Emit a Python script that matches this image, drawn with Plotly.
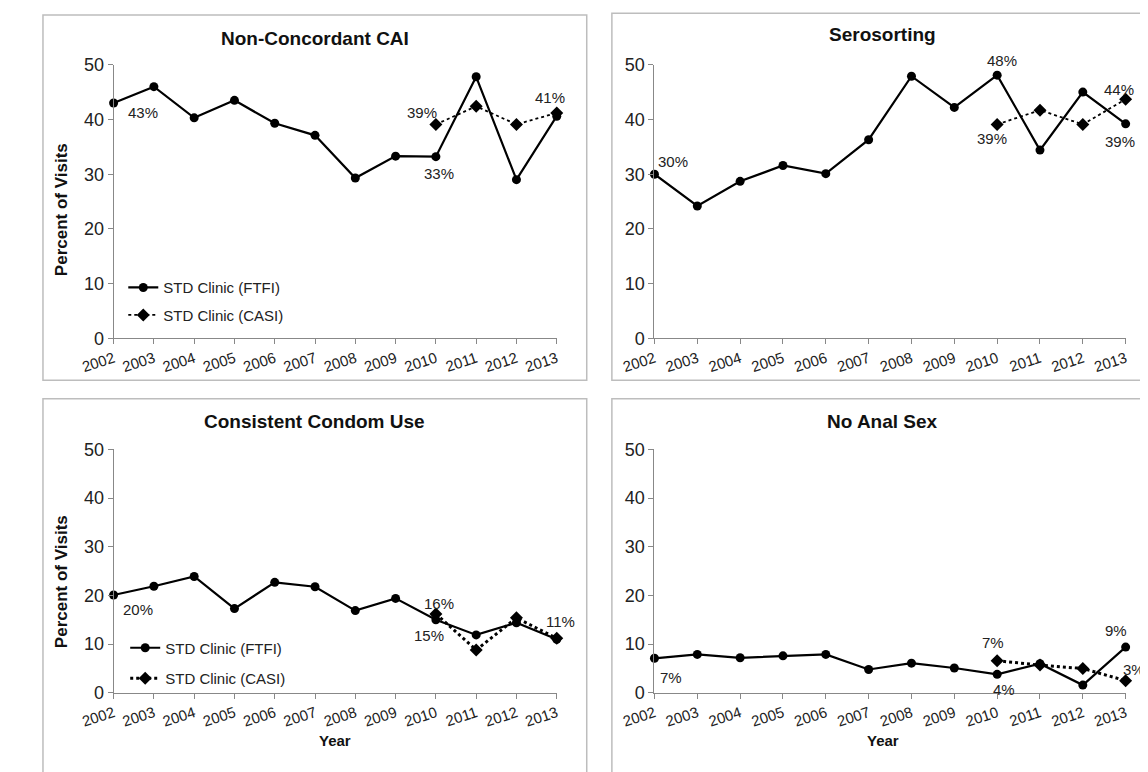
import plotly.graph_objects as go

# The page body adds an 8px offset, so the figure is drawn 8px smaller and
# all layout pixel positions below are given in window pixels and shifted.
OFF = 8
W, H = 1148 - OFF, 772 - OFF
FONT = "Liberation Sans, Arial, sans-serif"

years = list(range(2002, 2014))
casi_years = [2010, 2011, 2012, 2013]

titles = ["Non-Concordant CAI", "Serosorting", "Consistent Condom Use", "No Anal Sex"]

ftfi_ncai = [43.0, 46.0, 40.3, 43.5, 39.3, 37.1, 29.3, 33.3, 33.2, 47.8, 29.0, 40.6]
casi_ncai = [39.1, 42.4, 39.1, 41.2]

ftfi_sero = [30.0, 24.2, 28.7, 31.6, 30.1, 36.3, 47.9, 42.2, 48.1, 34.4, 45.0, 39.2]
casi_sero = [39.1, 41.7, 39.1, 43.7]

ftfi_ccu = [20.1, 21.9, 23.9, 17.3, 22.7, 21.8, 16.9, 19.4, 15.0, 11.9, 14.4, 11.0]
casi_ccu = [16.2, 8.8, 15.4, 11.2]

ftfi_nas = [7.1, 7.9, 7.2, 7.6, 7.9, 4.8, 6.1, 5.1, 3.8, 6.0, 1.6, 9.4]
casi_nas = [6.6, 5.7, 5.0, 2.5]

ftfi_name = "STD Clinic (FTFI)"
casi_name = "STD Clinic (CASI)"

ftfi_all = [ftfi_ncai, ftfi_sero, ftfi_ccu, ftfi_nas]
casi_all = [casi_ncai, casi_sero, casi_ccu, casi_nas]

# which points get a percentage label: (panel, series, year) + pixel offsets
labels = [
    (0, "f", 2002, 29, -9), (0, "c", 2010, -14, 12), (0, "f", 2010, 3, -17), (0, "c", 2013, -7, 15),
    (1, "f", 2002, 19, 13), (1, "f", 2010, 5, 15), (1, "c", 2010, -5, -14), (1, "c", 2013, -7, 10), (1, "f", 2013, -6, -18),
    (2, "f", 2002, 24, -15), (2, "c", 2010, 3, 10), (2, "f", 2010, -7, -16), (2, "c", 2013, 4, 17),
    (3, "f", 2002, 17, -19), (3, "c", 2010, -4, 18), (3, "f", 2010, 7, -15), (3, "f", 2013, -10, 17), (3, "c", 2013, 8, 11),
]

def px_x(p):
    return (p - OFF) / W

def px_y(p):
    return 1 - (p - OFF) / H

# plot-area geometry in window pixels
xdom_left = (82, 540)
xdom_right = (641, 1128)
ydom_top = (56, 337)
ydom_bot = (451, 701)
doms = [
    (xdom_left, ydom_top), (xdom_right, ydom_top),
    (xdom_left, ydom_bot), (xdom_right, ydom_bot),
]

fig = go.Figure()

for i in range(4):
    ax = "" if i == 0 else str(i + 1)
    xa, ya = "x" + ax, "y" + ax
    bottom = i >= 2
    leg = None
    if i == 0:
        leg = "legend"
    elif i == 2:
        leg = "legend2"
    fig.add_trace(go.Scatter(
        x=years, y=ftfi_all[i], mode="lines+markers", name=ftfi_name,
        line=dict(color="black", width=2.2),
        marker=dict(symbol="circle", size=9, color="black"),
        xaxis=xa, yaxis=ya, cliponaxis=False,
        showlegend=leg is not None, legend=leg or "legend", legendgroup=f"f{i}",
    ))
    fig.add_trace(go.Scatter(
        x=casi_years, y=casi_all[i], mode="lines+markers", name=casi_name,
        line=dict(color="black", width=3 if bottom else 1.8, dash="dot"),
        marker=dict(symbol="diamond", size=10, color="black"),
        xaxis=xa, yaxis=ya, cliponaxis=False,
        showlegend=leg is not None, legend=leg or "legend", legendgroup=f"c{i}",
    ))

layout = dict(
    width=W, height=H, margin=dict(l=0, r=0, t=0, b=0),
    paper_bgcolor="white", plot_bgcolor="white",
    font=dict(family=FONT, color="#222"),
    showlegend=True,
)

for i, (xd, yd) in enumerate(doms):
    ax = "" if i == 0 else str(i + 1)
    layout["xaxis" + ax] = dict(
        domain=[px_x(xd[0]), px_x(xd[1])], range=[2002, 2013],
        tickvals=years, ticktext=[str(y) for y in years], tickangle=-18,
        ticks="outside", ticklen=5, tickcolor="#888", showline=True,
        linecolor="#888", linewidth=1, showgrid=False, zeroline=False,
        tickfont=dict(size=15, color="#222", family=FONT),
        anchor="y" + ax, fixedrange=True,
    )
    layout["yaxis" + ax] = dict(
        domain=[px_y(yd[1]), px_y(yd[0])], range=[0, 50], dtick=10,
        ticks="outside", ticklen=5, tickcolor="#888", showline=True,
        linecolor="#888", linewidth=1, showgrid=False, zeroline=False,
        tickfont=dict(size=18, color="#222", family=FONT),
        anchor="x" + ax, fixedrange=True,
    )

layout["legend"] = dict(
    x=px_x(92), y=px_y(268), xanchor="left", yanchor="top",
    font=dict(size=15, family=FONT, color="#222"), bgcolor="rgba(0,0,0,0)",
    tracegroupgap=5, itemwidth=30,
)
layout["legend2"] = dict(
    x=px_x(94), y=px_y(638), xanchor="left", yanchor="top",
    font=dict(size=15, family=FONT, color="#222"), bgcolor="rgba(0,0,0,0)",
    tracegroupgap=8, itemwidth=30,
)

fig.update_layout(**layout)

# panel frames
frames = [(9, 5, 571, 380), (597, 3, 1160, 380), (9, 399, 571, 790), (597, 399, 1160, 790)]
for (x0, y0, x1, y1) in frames:
    fig.add_shape(type="rect", xref="paper", yref="paper",
                  x0=px_x(x0), x1=px_x(x1), y0=px_y(y1), y1=px_y(y0),
                  line=dict(color="#bdbdbd", width=1.5), fillcolor="rgba(0,0,0,0)", layer="below")

# titles
title_pos = [(290, 29), (877, 25), (290, 422), (877, 422)]
for t, (cx, cy) in zip(titles, title_pos):
    fig.add_annotation(text=f"<b>{t}</b>", xref="paper", yref="paper",
                       x=px_x(cx), y=px_y(cy), xanchor="center", yanchor="middle",
                       showarrow=False, font=dict(size=19, family=FONT, color="#111"))

# axis titles
for cy in (205, 587):
    fig.add_annotation(text="<b>Percent of Visits</b>", xref="paper", yref="paper",
                       x=px_x(29), y=px_y(cy), xanchor="center", yanchor="middle",
                       showarrow=False, textangle=-90,
                       font=dict(size=17, family=FONT, color="#111"))
for cx in (311, 877):
    fig.add_annotation(text="<b>Year</b>", xref="paper", yref="paper",
                       x=px_x(cx), y=px_y(750), xanchor="center", yanchor="middle",
                       showarrow=False, font=dict(size=15, family=FONT, color="#111"))

# data labels
for (p, s, yr, dx, dy) in labels:
    ax = "" if p == 0 else str(p + 1)
    if s == "f":
        v = ftfi_all[p][years.index(yr)]
    else:
        v = casi_all[p][casi_years.index(yr)]
    fig.add_annotation(text=f"{int(v + 0.5)}%", xref="x" + ax, yref="y" + ax,
                       x=yr, y=v, xshift=dx, yshift=dy, showarrow=False,
                       xanchor="center", yanchor="middle",
                       font=dict(size=15, family=FONT, color="#222"))

fig.write_html("out.html")
